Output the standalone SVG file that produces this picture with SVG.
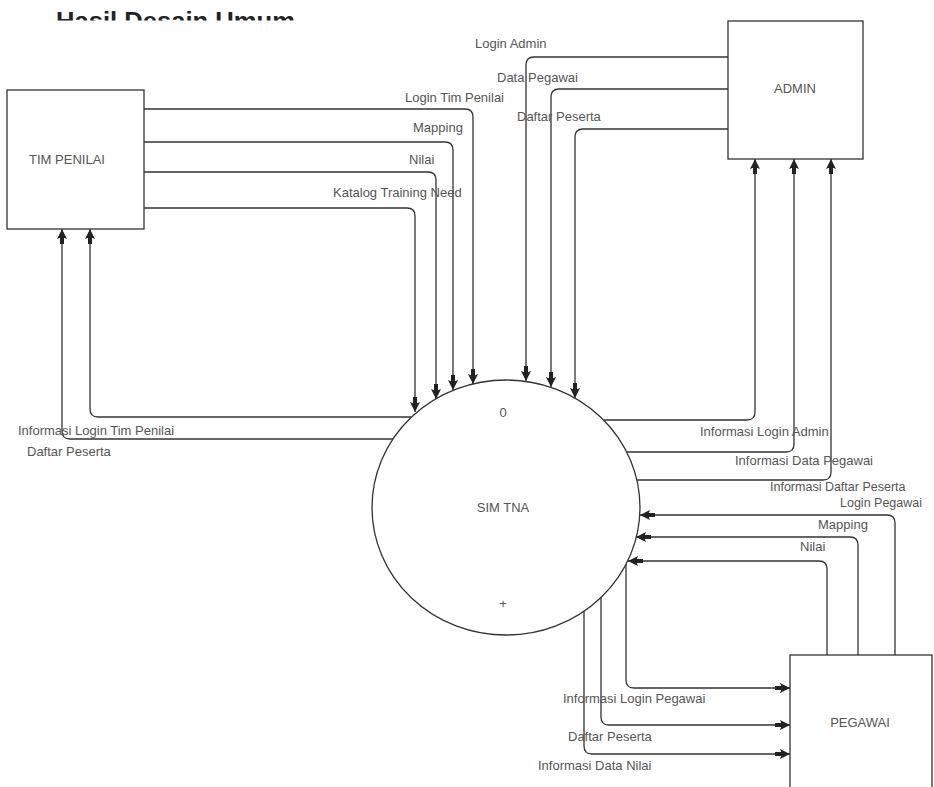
<svg xmlns="http://www.w3.org/2000/svg" width="934" height="787" viewBox="0 0 934 787">
<style>
.box{fill:#fff;stroke:#333;stroke-width:1.3}
.proc{fill:#fff;stroke:#333;stroke-width:1.3}
.flow{fill:none;stroke:#333;stroke-width:1.3}
.lbl{font-family:"Liberation Sans",Arial,sans-serif;font-size:13px;fill:#555}
.nlbl{font-family:"Liberation Sans",Arial,sans-serif;font-size:13px;fill:#555;text-anchor:middle}
.title{font-family:"Liberation Sans",Arial,sans-serif;font-size:24px;font-weight:bold;fill:#222}
</style>
<defs>
<marker id="arr" markerUnits="userSpaceOnUse" markerWidth="20" markerHeight="12" viewBox="-16 -6 17 12" refX="0" refY="0" orient="auto">
<path d="M0,0 L-10,-5 L-8,0 L-10,5 Z M-8,-2 L-15,-2 L-15,2 L-8,2 Z" fill="#222"/>
</marker>
<clipPath id="tc"><rect x="0" y="0" width="934" height="20.5"/></clipPath>
</defs>
<rect width="934" height="787" fill="#fff"/>
<text class="title" x="56" y="29" textLength="239" lengthAdjust="spacingAndGlyphs" clip-path="url(#tc)">Hasil Desain Umum</text>

<g id="tim-penilai">
<rect class="box" x="7" y="90" width="137" height="139"/>
<text class="nlbl" x="67" y="164">TIM PENILAI</text>
</g>
<g id="admin">
<rect class="box" x="728" y="21" width="135" height="138"/>
<text class="nlbl" x="795" y="93">ADMIN</text>
</g>
<g id="pegawai">
<rect class="box" x="790" y="655" width="142" height="140"/>
<text class="nlbl" x="860" y="727">PEGAWAI</text>
</g>
<g id="sim-tna">
<ellipse class="proc" cx="506" cy="507.5" rx="134" ry="127.5"/>
<text class="nlbl" x="503" y="417">0</text>
<text class="nlbl" x="503" y="512">SIM TNA</text>
<text class="nlbl" x="503" y="608">+</text>
</g>

<g id="connectors">
<path class="flow" marker-end="url(#arr)" d="M144,109 H465 Q473,109 473,117 V384"/>
<path class="flow" marker-end="url(#arr)" d="M144,142 H445 Q453,142 453,150 V390"/>
<path class="flow" marker-end="url(#arr)" d="M144,172 H428 Q436,172 436,180 V399"/>
<path class="flow" marker-end="url(#arr)" d="M144,208 H407 Q415,208 415,216 V412"/>

<path class="flow" marker-end="url(#arr)" d="M728,57 H534 Q526,57 526,65 V381"/>
<path class="flow" marker-end="url(#arr)" d="M728,89 H559 Q551,89 551,97 V387"/>
<path class="flow" marker-end="url(#arr)" d="M728,129 H583 Q575,129 575,137 V398"/>

<path class="flow" marker-end="url(#arr)" d="M604,420 H747 Q755,420 755,412 V159"/>
<path class="flow" marker-end="url(#arr)" d="M627,452 H786 Q794,452 794,444 V159"/>
<path class="flow" marker-end="url(#arr)" d="M637,480 H823 Q831,480 831,472 V159"/>

<path class="flow" marker-end="url(#arr)" d="M895,655 V523 Q895,515 887,515 H640"/>
<path class="flow" marker-end="url(#arr)" d="M858,655 V545 Q858,537 850,537 H636"/>
<path class="flow" marker-end="url(#arr)" d="M827,655 V569 Q827,561 819,561 H628"/>

<path class="flow" marker-end="url(#arr)" d="M626,564 V680 Q626,688 634,688 H790"/>
<path class="flow" marker-end="url(#arr)" d="M601,597 V717 Q601,725 609,725 H790"/>
<path class="flow" marker-end="url(#arr)" d="M584,611 V746 Q584,754 592,754 H790"/>

<path class="flow" marker-end="url(#arr)" d="M411,417 H98 Q90,417 90,409 V229"/>
<path class="flow" marker-end="url(#arr)" d="M393,439 H70 Q62,439 62,431 V229"/>

<text class="lbl" x="405" y="102">Login Tim Penilai</text>
<text class="lbl" x="413" y="132">Mapping</text>
<text class="lbl" x="409" y="164">Nilai</text>
<text class="lbl" x="333" y="197">Katalog Training Need</text>
<text class="lbl" x="475" y="48">Login Admin</text>
<text class="lbl" x="497" y="82">Data Pegawai</text>
<text class="lbl" x="517" y="121">Daftar Peserta</text>
<text class="lbl" x="700" y="436">Informasi Login Admin</text>
<text class="lbl" x="735" y="465">Informasi Data Pegawai</text>
<text class="lbl" x="770" y="491" style="font-size:12.5px">Informasi Daftar Peserta</text>
<text class="lbl" x="840" y="507" style="font-size:12.5px">Login Pegawai</text>
<text class="lbl" x="818" y="529">Mapping</text>
<text class="lbl" x="800" y="551">Nilai</text>
<text class="lbl" x="563" y="703">Informasi Login Pegawai</text>
<text class="lbl" x="568" y="741">Daftar Peserta</text>
<text class="lbl" x="538" y="770">Informasi Data Nilai</text>
<text class="lbl" x="18" y="435">Informasi Login Tim Penilai</text>
<text class="lbl" x="27" y="456">Daftar Peserta</text>
</g>
</svg>
